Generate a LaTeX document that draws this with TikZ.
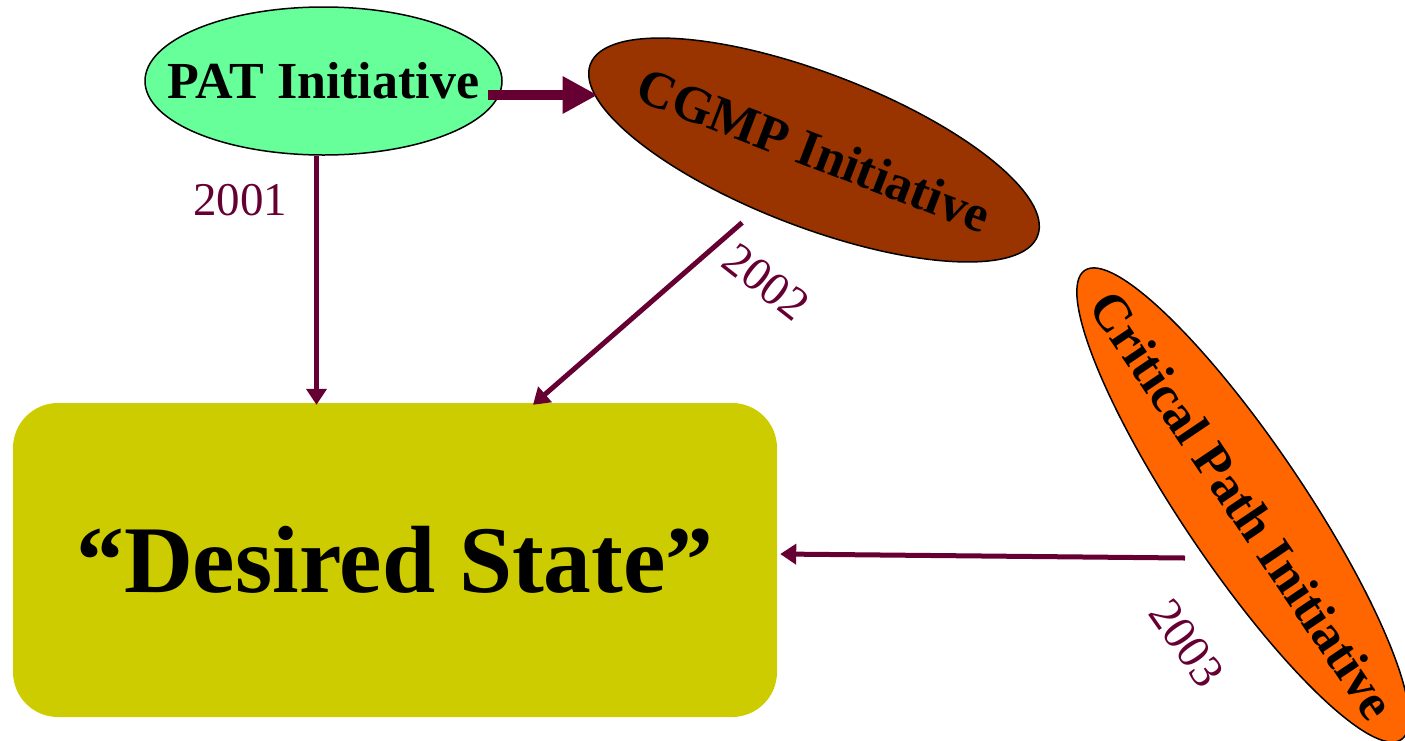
\documentclass[tikz,border=0pt]{standalone}
\usepackage{fontspec}
\setmainfont{Liberation Serif}
\usetikzlibrary{shapes.geometric,arrows.meta,calc}
\definecolor{patgreen}{HTML}{66FF99}
\definecolor{cgmpbrown}{HTML}{993300}
\definecolor{cporange}{HTML}{FF6600}
\definecolor{dsolive}{HTML}{CCCC00}
\definecolor{arrowmaroon}{HTML}{660033}
\tikzset{
  oval/.style={ellipse, draw=black, line width=1.5pt, inner sep=0pt},
  title/.style={font=\bfseries\fontsize{52}{60}\selectfont, text=black, inner sep=0pt},
  year/.style={font=\fontsize{47}{52}\selectfont, text=arrowmaroon, inner sep=0pt},
  link/.style={draw=arrowmaroon, line width=5pt, -{Triangle[length=16pt,width=20pt]}},
  fatlink/.style={draw=arrowmaroon, line width=10pt, -{Triangle[length=35pt,width=35pt]}},
}
\begin{document}
\begin{tikzpicture}[x=1pt,y=1pt]
\useasboundingbox (0,0) rectangle (1405,-740);
% nodes
\node[oval, fill=patgreen, minimum width=357pt, minimum height=148pt] (pat) at (323.5,-81) {};
\node[title] (pattext) at (pat.center) {PAT Initiative};
\node[oval, fill=cgmpbrown, rotate=-21, minimum width=479pt, minimum height=154pt] (cgmp) at (814,-150) {};
\node[title, rotate=-21] (cgmptext) at (cgmp.center) {CGMP Initiative};
\node[oval, fill=cporange, rotate=-56, minimum width=566pt, minimum height=122pt] (cp) at (1243,-505) {};
\node[title, rotate=-56] (cptext) at (cp.center) {Critical Path Initiative};
\node[rectangle, fill=dsolive, rounded corners=45pt, minimum width=764pt, minimum height=314pt] (ds) at (395,-560) {};
\node[font=\bfseries\fontsize{95.5}{100}\selectfont, inner sep=0pt] (dstext) at (ds.center) {“Desired State”};
% connectors
\coordinate (a1) at ($(pat.east)+(-15,-14)$);
\draw[fatlink] (a1) -- ($(a1 -| cgmp.west)+(8,0)$);
\draw[link] ($(pat.south)+(-7,0)$) -- ($(pat.south |- ds.north)+(-7,-2)$);
\draw[link] ($(cgmp.south)+(-44,0)$) -- ($(ds.north)+(138,-2)$);
\draw[link] ($(cp.center)+(-58,-53)$) -- ($(ds.east)+(3,6)$);
% labels
\node[year] (y2001) at (240,-200) {2001};
\node[year, rotate=-38] (y2002) at (766,-282) {2002};
\node[year, rotate=-55] (y2003) at (1187,-643) {2003};
\end{tikzpicture}
\end{document}
